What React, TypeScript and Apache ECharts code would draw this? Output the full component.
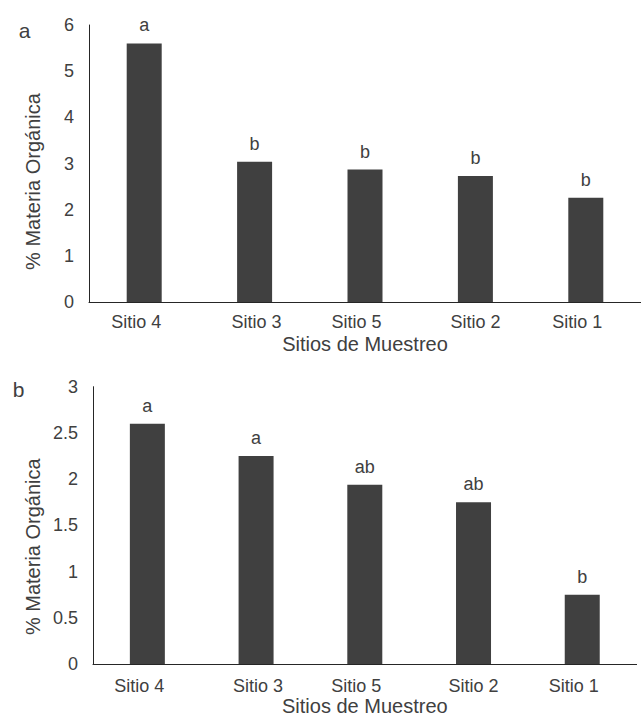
import React, { useEffect, useRef } from "react";
import * as echarts from "echarts";

const categories = ["Sitio 4", "Sitio 3", "Sitio 5", "Sitio 2", "Sitio 1"];
const valuesA = [5.6, 3.04, 2.87, 2.73, 2.26];
const valuesB = [2.6, 2.25, 1.94, 1.75, 0.75];
const lettersA = ["a", "b", "b", "b", "b"];
const lettersB = ["a", "a", "ab", "ab", "b"];
const yTitle = "% Materia Orgánica";
const xTitle = "Sitios de Muestreo";
const panelLabels = ["a", "b"];

// label horizontal nudges (style only)
const labelShift = [-8, 2, -8.5, 0, -8.5];

const FONT = "'Liberation Sans', Arial, Helvetica, sans-serif";
const TEXT = "#404040";
const BAR = "#404040";
const AXIS = "#262626";

function catData() {
  return categories.map((c, i) => {
    const s = labelShift[i];
    const pad = s < 0 ? [0, -2 * s, 0, 0] : [0, 0, 0, 2 * s];
    return { value: c, textStyle: { padding: pad } };
  });
}

export default function App() {
  const ref = useRef<HTMLDivElement>(null);
  useEffect(() => {
    document.body.style.margin = "0";
    const chart = echarts.init(ref.current!, undefined, { renderer: "svg" });
    const xAxisBase = (gridIndex: number, margin: number, nameGap: number) => ({
      type: "category" as const,
      gridIndex,
      data: catData(),
      axisLine: { show: true, lineStyle: { color: AXIS, width: 1 } },
      axisTick: { show: false },
      axisLabel: { color: TEXT, fontSize: 18, fontFamily: FONT, margin, interval: 0 },
      name: xTitle,
      nameLocation: "middle" as const,
      nameGap,
      nameTextStyle: { color: TEXT, fontSize: 20, fontFamily: FONT, verticalAlign: "top" as const },
    });
    const yAxisBase = (gridIndex: number, max: number, interval: number) => ({
      type: "value" as const,
      gridIndex,
      min: 0,
      max,
      interval,
      axisLine: { show: true, lineStyle: { color: AXIS, width: 1 } },
      axisTick: { show: false },
      splitLine: { show: false },
      axisLabel: { color: TEXT, fontSize: 18, fontFamily: FONT, margin: 15 },
    });
    const seriesBase = (idx: number, values: number[], letters: string[]) => ({
      type: "bar" as const,
      xAxisIndex: idx,
      yAxisIndex: idx,
      data: values,
      barWidth: 35,
      itemStyle: { color: BAR },
      label: {
        show: true,
        position: "top" as const,
        distance: 9,
        color: TEXT,
        fontSize: 18,
        fontFamily: FONT,
        formatter: (p: any) => letters[p.dataIndex],
      },
    });
    chart.setOption({
      animation: false,
      backgroundColor: "#ffffff",
      grid: [
        { left: 89, right: -9, top: 25, height: 277 },
        { left: 93, right: 4.4, top: 386.7, height: 277.3 },
      ],
      xAxis: [xAxisBase(0, 11, 32), xAxisBase(1, 13, 31)],
      yAxis: [yAxisBase(0, 6, 1), yAxisBase(1, 3, 0.5)],
      series: [seriesBase(0, valuesA, lettersA), seriesBase(1, valuesB, lettersB)],
      graphic: [
        {
          type: "text",
          x: 33,
          y: 181.5,
          rotation: Math.PI / 2,
          style: { text: yTitle, fill: TEXT, fontSize: 20, fontFamily: FONT, textAlign: "center", textVerticalAlign: "middle" },
        },
        {
          type: "text",
          x: 33,
          y: 546.7,
          rotation: Math.PI / 2,
          style: { text: yTitle, fill: TEXT, fontSize: 20, fontFamily: FONT, textAlign: "center", textVerticalAlign: "middle" },
        },
        {
          type: "text",
          x: 24.5,
          y: 30.6,
          style: { text: panelLabels[0], fill: TEXT, fontSize: 21, fontFamily: FONT, textAlign: "center", textVerticalAlign: "middle" },
        },
        {
          type: "text",
          x: 18.5,
          y: 389.6,
          style: { text: panelLabels[1], fill: TEXT, fontSize: 21, fontFamily: FONT, textAlign: "center", textVerticalAlign: "middle" },
        },
      ],
    });
    return () => chart.dispose();
  }, []);
  return <div ref={ref} style={{ position: "fixed", left: 0, top: 0, width: 641, height: 717 }} />;
}
